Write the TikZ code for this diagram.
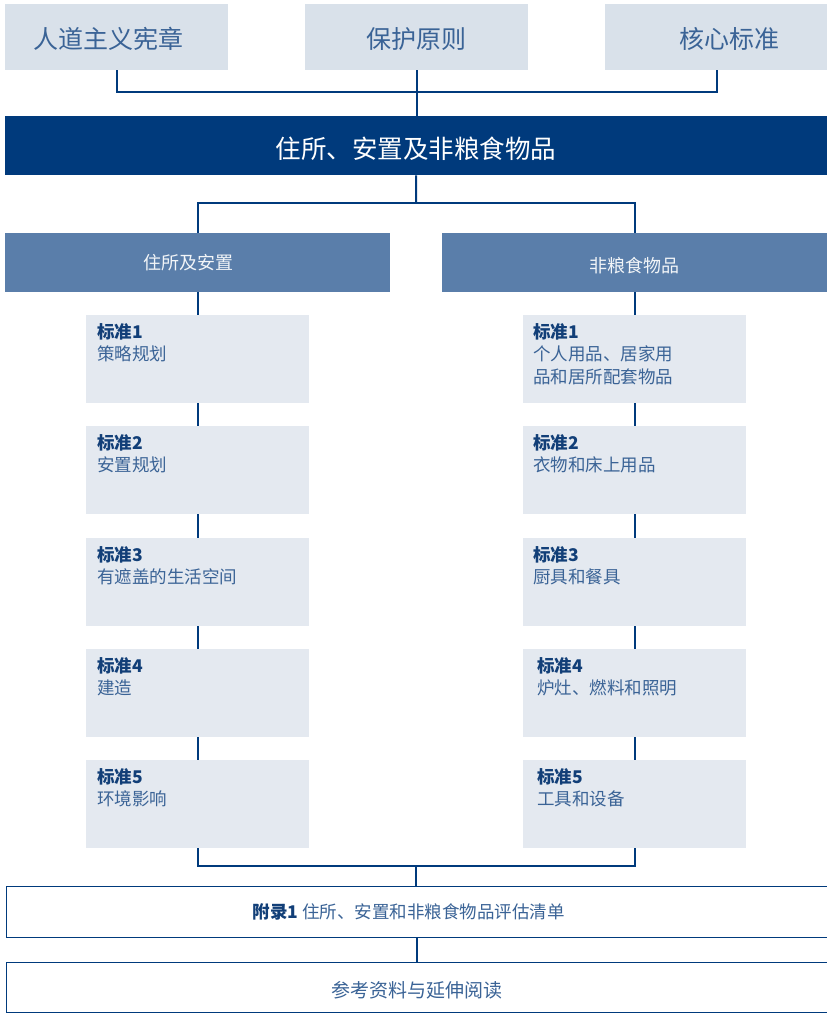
\documentclass[tikz,border=0pt]{standalone}
\usepackage{fontspec}
\setmainfont{Noto Sans CJK SC}
\usepackage{xcolor}
\usetikzlibrary{positioning}

\definecolor{navy}{HTML}{003A7C}
\definecolor{midblue}{HTML}{5A7EAA}
\definecolor{topfill}{HTML}{D9E1EA}
\definecolor{stdfill}{HTML}{E4E9F0}
\definecolor{stdhead}{HTML}{123F78}
\definecolor{stdtext}{HTML}{3A6396}

\begin{document}
\begin{tikzpicture}[x=1pt,y=-1pt,
    link/.style={draw=navy,line width=2pt},
    topbox/.style={fill=topfill,text=stdtext,minimum width=223pt,minimum height=66pt,
        inner sep=0pt,anchor=north west,font=\fontsize{25}{30}\selectfont,
        text height=24pt,text depth=1pt},
    mainbox/.style={fill=navy,text=white,minimum width=822pt,minimum height=59pt,
        inner sep=0pt,anchor=north west,font=\fontsize{25.5}{30}\selectfont,
        text height=26pt,text depth=0pt},
    groupbox/.style={fill=midblue,text=white!92!midblue,minimum width=385pt,minimum height=59pt,
        inner sep=0pt,anchor=north west,font=\fontsize{18}{22}\selectfont},
    stdbox/.style={fill=stdfill,minimum width=223pt,minimum height=88pt,inner sep=0pt,anchor=north west},
    stdlabel/.style={anchor=north west,inner sep=0pt,align=left,text=stdtext,
        font=\fontsize{17.5}{22.5}\selectfont},
    endbox/.style={draw=navy,line width=1.2pt,fill=white,text=stdtext,minimum width=821pt,
        inner sep=0pt,anchor=north west}]
    \useasboundingbox (0,0) rectangle (827,1013);

    % top row
    \node[topbox] (charter) at (5,4) {\hspace*{-16pt}人道主义宪章};
    \node[topbox] (principles) at (305,4) {保护原则};
    \node[topbox] (core) at (605,4) {\hspace*{26pt}核心标准};
    \coordinate (topbus) at (416,92);
    \draw[link] (charter.south) |- (topbus) -| (core.south);
    \draw[link] (principles.south) -- (principles.south |- 0,116);

    % main heading
    \node[mainbox] (main) at (5,116) {住所、安置及非粮食物品};

    % two groups
    \node[groupbox] (shelter) at (5,233) {\hspace*{-18pt}住所及安置};
    \node[groupbox,text height=20pt,text depth=0.4pt] (nfi) at (442,233) {非粮食物品};
    \coordinate (midbus) at (416,203);
    \draw[link] (main.south) -- (midbus);
    \draw[link] (shelter.north) |- (midbus) -| (nfi.north);

    % standards, left column
    \foreach \i/\y/\txt in {1/315/策略规划,2/426/安置规划,3/538/有遮盖的生活空间,4/649/建造,5/760/环境影响}{
        \node[stdbox] (s\i) at (86,\y) {};
        \node[stdlabel] (s\i t) at ([xshift=11pt,yshift=-8pt]s\i.north west)
            {\textbf{\color{stdhead}标准\i}\\\txt};
    }
    % standards, right column
    \foreach \i/\y/\dx/\txt in {1/315/10/{个人用品、居家用\\品和居所配套物品},2/426/10/衣物和床上用品,
        3/538/10/厨具和餐具,4/649/14/炉灶、燃料和照明,5/760/14/工具和设备}{
        \node[stdbox] (n\i) at (523,\y) {};
        \node[stdlabel] (n\i t) at ([xshift=\dx pt,yshift=-8pt]n\i.north west)
            {\textbf{\color{stdhead}标准\i}\\\txt};
    }
    \draw[link] (shelter.south) -- (s1.north);
    \draw[link] (nfi.south) -- (n1.north);
    \foreach \a/\b in {1/2,2/3,3/4,4/5}{
        \draw[link] (s\a.south) -- (s\b.north);
        \draw[link] (n\a.south) -- (n\b.north);
    }

    % annex and references
    \coordinate (lowbus) at (416,866);
    \draw[link] (s5.south) |- (lowbus) -| (n5.south);
    \node[endbox,minimum height=51pt,font=\fontsize{17.5}{22}\selectfont] (annex) at (5.5,886)
        {\hspace*{-16pt}\textbf{\color{stdhead}附录1}\ 住所、安置和非粮食物品评估清单};
    \node[endbox,minimum height=50pt,font=\fontsize{19}{23}\selectfont,
        text height=21pt,text depth=0.5pt] (refs) at (5.5,962) {参考资料与延伸阅读};
    \draw[link] (lowbus) -- (lowbus |- annex.north);
    \draw[link] (annex.south) -- (refs.north);
\end{tikzpicture}
\end{document}
